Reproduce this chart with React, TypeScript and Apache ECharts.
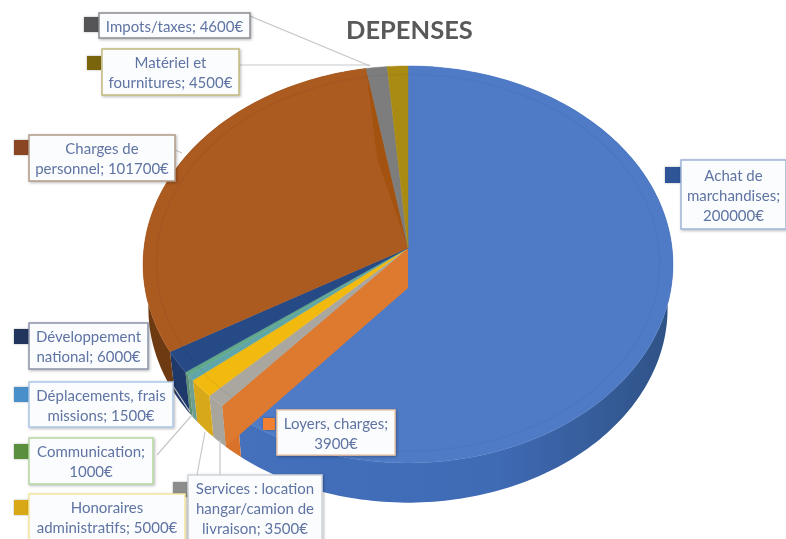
import React, { useEffect, useRef } from "react";
import * as echarts from "echarts";

const titleText = "DEPENSES";
const categories = [
  "Achat de marchandises",
  "Loyers, charges",
  "Services : location hangar/camion de livraison",
  "Honoraires administratifs",
  "Déplacements, frais missions",
  "Communication",
  "Développement national",
  "Charges de personnel",
  "Impots/taxes",
  "Matériel et fournitures",
];
const values = [200000, 3900, 3500, 5000, 1500, 1000, 6000, 101700, 4600, 4500];
const labelTexts = [
  "Achat de\nmarchandises;\n200000€",
  "Loyers, charges;\n3900€",
  "Services : location\nhangar/camion de\nlivraison; 3500€",
  "Honoraires\nadministratifs; 5000€",
  "Déplacements, frais\nmissions; 1500€",
  "Communication;\n1000€",
  "Développement\nnational; 6000€",
  "Charges de\npersonnel; 101700€",
  "Impots/taxes; 4600€",
  "Matériel et\nfournitures; 4500€",
];
const topColors = ["#4f7bc6", "#e5803a", "#a9a7a0", "#f2b90f", "#5fa6a8", "#62a88a", "#264a86", "#ab5a20", "#7d7d7d", "#a98a12"];
const sideColors = ["#3f6ab4", "#d9722a", "#a8a69c", "#d6a81a", "#6f9f90", "#5b8f70", "#1f3a6a", "#6e3a12", "#555555", "#7a620c"];
const keyColors = ["#2f5597", "#f08030", "#8c8c8c", "#d9a814", "#4a8fc9", "#5a8f3c", "#22365c", "#8a4520", "#555558", "#7a6510"];
const borderColors = ["#9fb4d8", "#f0c8a8", "#cfd4da", "#f5e69a", "#a9c6e6", "#b5d6a0", "#8b93a8", "#b09a88", "#8a8c90", "#c2b87e"];

// box: x, y, w, h; key: x, y, size
const boxes = [
  [681, 160, 105, 69],
  [277, 410, 118, 45],
  [188, 475, 134, 66],
  [29, 494, 156, 46],
  [29, 382, 144, 45],
  [29, 438, 124, 46],
  [29, 323, 119, 46],
  [29, 135, 146, 46],
  [99, 13, 151, 25],
  [102, 49, 137, 46],
];
const keys = [
  [665, 167, 16],
  [263, 418, 12],
  [173, 482, 15],
  [14, 500, 15],
  [14, 387, 15],
  [14, 444, 15],
  [14, 329, 15],
  [14, 140, 15],
  [84, 17, 15],
  [87, 56, 14],
];
const leaders = [
  [[250, 16], [370, 66]],
  [[239, 65], [370, 65]],
  [[157, 455], [192, 415]],
  [[197, 475], [205, 432]],
  [[220, 475], [220, 440]],
  [[173, 386], [190, 412]],
  [[175, 150], [182, 153]],
];

const cx = 408, cy = 248, X = 264, A = 197.1, K = 0.083, depth = 40;
const lowScale = 0.98, lowShift = 44;
const total = values.reduce((a, b) => a + b, 0);

function rim(theta: number, r = 1, low = false): number[] {
  const u = r * Math.sin(theta);
  const v = r * Math.cos(theta);
  const w = 1 + K * v;
  const s = low ? lowScale : 1;
  return [cx + (s * X * u) / w, cy - (s * A * v) / w + (low ? lowShift : 0)];
}
function arc(a0: number, a1: number, r = 1, low = false): number[][] {
  const n = Math.max(2, Math.ceil(Math.abs(a1 - a0) / 0.02));
  const out: number[][] = [];
  for (let i = 0; i <= n; i++) out.push(rim(a0 + ((a1 - a0) * i) / n, r, low));
  return out;
}

function renderItem(params: any, api: any) {
  const i = params.dataIndex;
  let before = 0;
  for (let j = 0; j < i; j++) before += values[j];
  const a0 = (before / total) * Math.PI * 2;
  const a1 = ((before + api.value(0)) / total) * Math.PI * 2;
  const children: any[] = [];
  const hiddenSide = Math.cos(a0) > 0 && Math.cos(a1) > 0;
  if (!hiddenSide) {
    const side = arc(a0, a1).concat(arc(a0, a1, 1, true).reverse());
    children.push({
      type: "polygon",
      shape: { points: side },
      style: {
        fill:
          i === 0
            ? {
                type: "linear", x: 0, y: 0, x2: 1, y2: 0,
                colorStops: [
                  { offset: 0, color: "#4470bc" },
                  { offset: 0.6, color: "#3f6ab4" },
                  { offset: 1, color: "#2f5285" },
                ],
              }
            : sideColors[i],
      },
    });
  }
  children.push({
    type: "polygon",
    shape: { points: [[cx, cy]].concat(arc(a0, a1)) },
    style: { fill: topColors[i], stroke: topColors[i], lineWidth: 0.5 },
  });
  children.push({
    type: "polyline",
    shape: { points: arc(a0, a1, 0.95) },
    style: { fill: "none", stroke: "rgba(40,40,60,0.05)", lineWidth: 1.5 },
  });
  if (i === 1) {
    const e = rim(a1);
    const f = rim(a1, 1, true);
    children.push({
      type: "polygon",
      shape: { points: [[cx, cy], [cx, cy + depth], f, e] },
      style: { fill: "#dd7a30" },
    });
  }
  if (i === 7) {
    const e = rim(a1);
    const m = [(cx + e[0]) / 2 - 10, (cy + e[1]) / 2];
    children.push({
      type: "polygon",
      shape: { points: [[cx, cy], m, e] },
      style: { fill: "#a4520f" },
    });
  }
  return { type: "group", children };
}

function buildGraphic() {
  const els: any[] = [];
  leaders.forEach((l) => {
    els.push({
      type: "line",
      z: 100,
      shape: { x1: l[0][0], y1: l[0][1], x2: l[1][0], y2: l[1][1] },
      style: { stroke: "#c4c8cc", lineWidth: 1.2 },
    });
  });
  labelTexts.forEach((t, i) => {
    const b = boxes[i];
    const k = keys[i];
    els.push({
      type: "rect",
      z: 101,
      shape: { x: k[0], y: k[1], width: k[2], height: k[2] },
      style: { fill: keyColors[i], shadowBlur: 2, shadowColor: "rgba(0,0,0,0.3)" },
    });
    els.push({
      type: "rect",
      z: 102,
      shape: { x: b[0], y: b[1], width: b[2], height: b[3] },
      style: {
        fill: "#fbfcfe",
        stroke: borderColors[i],
        lineWidth: 1.5,
        shadowBlur: 3,
        shadowOffsetX: 1,
        shadowOffsetY: 1,
        shadowColor: "rgba(0,0,0,0.3)",
      },
    });
    els.push({
      type: "text",
      z: 103,
      style: {
        text: t,
        x: b[0] + b[2] / 2,
        y: b[1] + b[3] / 2,
        align: "center",
        verticalAlign: "middle",
        lineHeight: 20,
        fill: "#5f74a3",
        font: '15px Lato, "Open Sans", sans-serif',
      },
    });
  });
  return els;
}

export default function App() {
  const ref = useRef<HTMLDivElement>(null);
  useEffect(() => {
    const chart = echarts.init(ref.current!, undefined, { renderer: "svg" });
    chart.setOption({
      animation: false,
      backgroundColor: "#ffffff",
      title: {
        text: titleText,
        left: 341,
        top: 11,
        textStyle: { fontFamily: "Lato, sans-serif", fontSize: 25.5, fontWeight: "bold", color: "#595959" },
      },
      series: [
        {
          type: "custom",
          coordinateSystem: "none",
          name: "DEPENSES",
          silent: true,
          clip: false,
          renderItem,
          dimensions: ["value"],
          data: values.map((v, i) => ({ name: categories[i], value: [v] })),
          encode: { value: 0 },
        },
      ],
      graphic: { elements: buildGraphic() },
    });
    return () => chart.dispose();
  }, []);
  return (
    <div
      ref={ref}
      style={{ position: "fixed", left: 0, top: 0, width: 786, height: 539, overflow: "hidden", filter: "blur(0.5px)" }}
    />
  );
}
